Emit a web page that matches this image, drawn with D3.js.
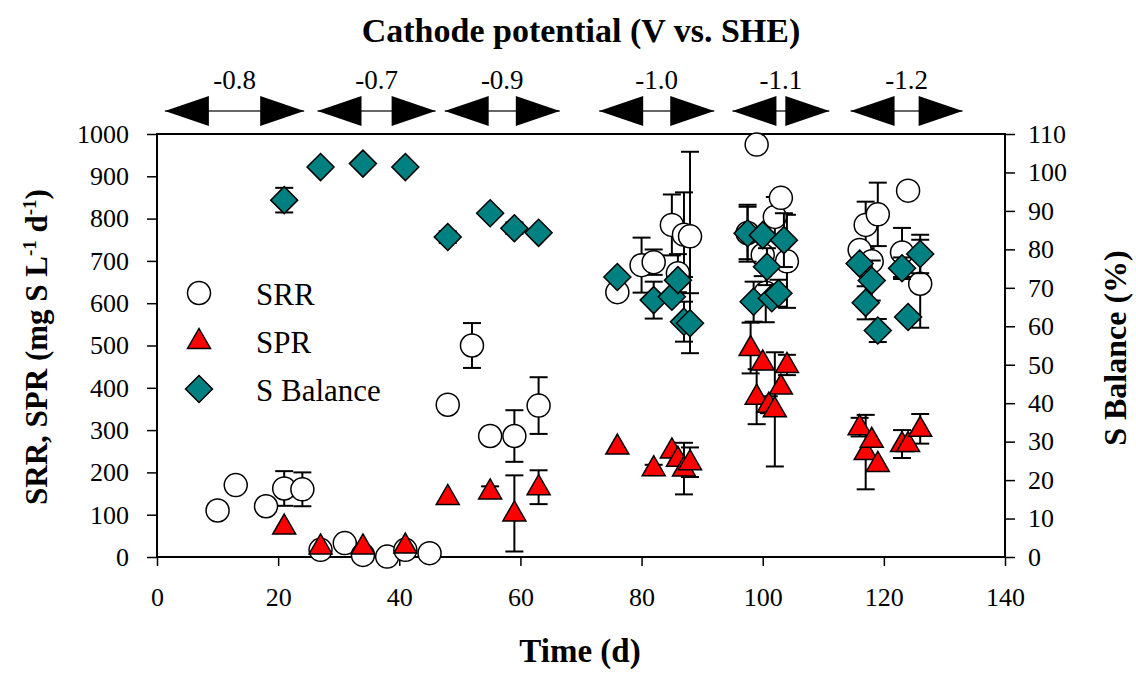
<!DOCTYPE html>
<html>
<head>
<meta charset="utf-8">
<script src="https://cdn.jsdelivr.net/npm/d3@7/dist/d3.min.js"></script>
<style>
    body { margin: 0; background: #fff; }
    svg text { font-family: "Liberation Serif", "Times New Roman", serif; fill: #000; }
</style>
</head>
<body>
<div id="chart"></div>
<script>
// sulfate reduction rate (mg S L-1 d-1), days
const srrDay = [10, 13, 18, 21, 24, 27, 31, 34, 38, 41, 45, 48, 52, 55, 59, 63,
    76, 80, 82, 85, 86, 87, 88,
    97.5, 99, 100, 100.5, 102, 103, 104,
    116, 117, 118, 119, 123, 124, 126];
const srrVal = [110, 170, 120, 162, 160, 17, 33, 5, 1, 17, 9, 360, 500, 286, 286, 358,
    626, 690, 697, 785, 671, 762, 758,
    766, 975, 714, 625, 804, 849, 699,
    726, 785, 699, 810, 720, 866, 646];
const srrErr = [0, 0, 0, 41, 40, 0, 15, 0, 0, 0, 0, 0, 53, 0, 61, 67,
    0, 65, 30, 72, 45, 100, 200,
    62, 0, 50, 70, 47, 0, 110,
    0, 55, 0, 75, 58, 0, 104];

// sulfide production rate
const sprDay = [21, 27, 34, 41, 48, 55, 59, 63,
    76, 82, 85, 86, 87, 88,
    98, 99, 100, 101, 102, 103, 104,
    116, 117, 118, 119, 123, 124, 126];
const sprVal = [72, 25, 25, 27, 142, 155, 103, 165,
    261, 210, 252, 232, 209, 224,
    494, 379, 460, 360, 349, 403, 454,
    307, 248, 277, 220, 267, 267, 303];
const sprErr = [0, 0, 0, 0, 0, 12, 90, 40,
    0, 8, 0, 0, 61, 35,
    60, 65, 0, 20, 135, 0, 24,
    22, 88, 0, 0, 33, 0, 35];

// sulfur balance (%)
const balDay = [21, 27, 34, 41, 48, 55, 59, 63,
    76, 82, 85, 86, 87, 88,
    97.5, 98.5, 100, 100.7, 101.5, 102.6, 103.5,
    116, 117, 118, 119, 123, 124, 126];
const balVal = [92.8, 101.4, 102.3, 101.4, 83.2, 89.4, 85.5, 84.3,
    72.8, 66.8, 67.7, 72.0, 61.2, 60.8,
    84.2, 66.4, 83.7, 75.5, 67.3, 68.6, 82.4,
    76.3, 66.1, 71.9, 58.9, 75.1, 62.4, 78.8];
const balErr = [3.2, 0, 0, 0, 1.5, 0, 1.5, 0,
    0, 4.8, 0, 0, 5.2, 7.8,
    7.4, 5.2, 0, 4.8, 0, 3.5, 7,
    0, 4.3, 5.2, 3, 2.8, 0, 5];

// cathode potential periods
const potLabels = ['-0.8', '-0.7', '-0.9', '-1.0', '-1.1', '-1.2'];
const potStart = [1.3, 26.5, 47.5, 73, 95, 114.5];
const potEnd = [24.3, 46, 66.5, 92, 111, 133];

const xTicks = [0, 20, 40, 60, 80, 100, 120, 140];
const yTicks = [0, 100, 200, 300, 400, 500, 600, 700, 800, 900, 1000];
const y2Ticks = [0, 10, 20, 30, 40, 50, 60, 70, 80, 90, 100, 110];

const size = [1136, 673];
const margin = {top: 134, right: 131, bottom: 116, left: 157};
const width = size[0] - margin.left - margin.right;
const height = size[1] - margin.top - margin.bottom;

const svg = d3.select('#chart').append('svg')
    .attr('width', size[0])
    .attr('height', size[1]);

const g = svg.append('g')
    .attr('transform', `translate(${margin.left},${margin.top})`);

const x = d3.scaleLinear().domain([0, 140]).range([0, width]);
const yL = d3.scaleLinear().domain([0, 1000]).range([height, 0]);
const yR = d3.scaleLinear().domain([0, 110]).range([height, 0]);

const zip = (a, b, c) => a.map((d, i) => ({day: d, val: b[i], err: c[i]}));
const fmt = d3.format('d');

// axes
g.append('g')
    .attr('transform', `translate(0,${height})`)
    .call(d3.axisBottom(x).tickValues(xTicks).tickFormat(fmt)
        .tickSize(9).tickSizeOuter(0).tickPadding(22));
g.append('g')
    .call(d3.axisLeft(yL).tickValues(yTicks).tickFormat(fmt)
        .tickSize(10).tickSizeOuter(0).tickPadding(18));
g.append('g')
    .attr('transform', `translate(${width},0)`)
    .call(d3.axisRight(yR).tickValues(y2Ticks).tickFormat(fmt)
        .tickSize(10).tickSizeOuter(0).tickPadding(13));

g.selectAll('.tick text').style('font-size', '26px');
g.selectAll('.tick line').attr('stroke', '#000').attr('stroke-width', 1.5);
g.selectAll('.domain').remove();

g.append('rect')
    .attr('width', width)
    .attr('height', height)
    .attr('fill', 'none')
    .attr('stroke', '#000')
    .attr('stroke-width', 2);

// marker shapes
const circlePath = 'M11.5,0A11.5,11.5 0 1,1 -11.5,0A11.5,11.5 0 1,1 11.5,0Z';
const triPath = 'M0,-12.5L11.5,7.5L-11.5,7.5Z';
const diaPath = 'M0,-13.5L13.5,0L0,13.5L-13.5,0Z';

function drawSeries(data, yScale, path, fill) {
    let s = g.append('g');
    let bars = s.append('g').selectAll('g')
        .data(data.filter(d => d.err > 0))
        .enter().append('g')
        .attr('stroke', '#000')
        .attr('stroke-width', 2);
    bars.append('line')
        .attr('x1', d => x(d.day)).attr('x2', d => x(d.day))
        .attr('y1', d => yScale(d.val - d.err)).attr('y2', d => yScale(d.val + d.err));
    bars.append('line')
        .attr('x1', d => x(d.day) - 9).attr('x2', d => x(d.day) + 9)
        .attr('y1', d => yScale(d.val + d.err)).attr('y2', d => yScale(d.val + d.err));
    bars.append('line')
        .attr('x1', d => x(d.day) - 9).attr('x2', d => x(d.day) + 9)
        .attr('y1', d => yScale(d.val - d.err)).attr('y2', d => yScale(d.val - d.err));

    s.append('g').selectAll('path')
        .data(data)
        .enter().append('path')
        .attr('d', path)
        .attr('transform', d => `translate(${x(d.day)},${yScale(d.val)})`)
        .attr('fill', fill)
        .attr('stroke', '#000')
        .attr('stroke-width', 1.5);
}

drawSeries(zip(srrDay, srrVal, srrErr), yL, circlePath, '#fff');
drawSeries(zip(sprDay, sprVal, sprErr), yL, triPath, '#ff0000');
drawSeries(zip(balDay, balVal, balErr), yR, diaPath, '#008080');

// legend
const legend = [
    {name: 'SRR', path: circlePath, fill: '#fff'},
    {name: 'SPR', path: triPath, fill: '#ff0000'},
    {name: 'S Balance', path: diaPath, fill: '#008080'}
];
const lg = svg.append('g').attr('transform', 'translate(199,293)');
legend.forEach((d, i) => {
    lg.append('path')
        .attr('d', d.path)
        .attr('transform', `translate(0,${i * 48})`)
        .attr('fill', d.fill)
        .attr('stroke', '#000')
        .attr('stroke-width', 1.5);
    lg.append('text')
        .attr('x', 57)
        .attr('y', i * 48 + 12)
        .style('font-size', '31px')
        .text(d.name);
});

// potential arrows on top
const arrowY = 111 - margin.top;
const pots = potLabels.map((d, i) => ({label: d, s: potStart[i], e: potEnd[i]}));
const pg = g.append('g');
pots.forEach(p => {
    let x0 = x(p.s), x1 = x(p.e);
    pg.append('line')
        .attr('x1', x0).attr('x2', x1)
        .attr('y1', arrowY).attr('y2', arrowY)
        .attr('stroke', '#333')
        .attr('stroke-width', 1.5);
    pg.append('path')
        .attr('d', `M${x0},${arrowY}L${x0 + 44},${arrowY - 15}L${x0 + 44},${arrowY + 15}Z`)
        .attr('fill', '#000');
    pg.append('path')
        .attr('d', `M${x1},${arrowY}L${x1 - 44},${arrowY - 15}L${x1 - 44},${arrowY + 15}Z`)
        .attr('fill', '#000');
    pg.append('text')
        .attr('x', (x0 + x1) / 2)
        .attr('y', arrowY - 22)
        .attr('text-anchor', 'middle')
        .style('font-size', '27px')
        .text(p.label);
});

// titles
svg.append('text')
    .attr('x', 581)
    .attr('y', 42)
    .attr('text-anchor', 'middle')
    .style('font-size', '34px')
    .style('font-weight', 'bold')
    .text('Cathode potential (V vs. SHE)');

svg.append('text')
    .attr('x', 580)
    .attr('y', 662)
    .attr('text-anchor', 'middle')
    .style('font-size', '33px')
    .style('font-weight', 'bold')
    .text('Time (d)');

let yl = svg.append('text')
    .attr('transform', 'translate(47,347) rotate(-90)')
    .attr('text-anchor', 'middle')
    .style('font-size', '31px')
    .style('font-weight', 'bold');
yl.append('tspan').text('SRR, SPR (mg S L');
yl.append('tspan').attr('dy', -11).style('font-size', '19px').text('-1');
yl.append('tspan').attr('dy', 11).text(' d');
yl.append('tspan').attr('dy', -11).style('font-size', '19px').text('-1');
yl.append('tspan').attr('dy', 11).text(')');

svg.append('text')
    .attr('transform', 'translate(1126,348) rotate(-90)')
    .attr('text-anchor', 'middle')
    .style('font-size', '32px')
    .style('font-weight', 'bold')
    .text('S Balance (%)');
</script>
</body>
</html>
